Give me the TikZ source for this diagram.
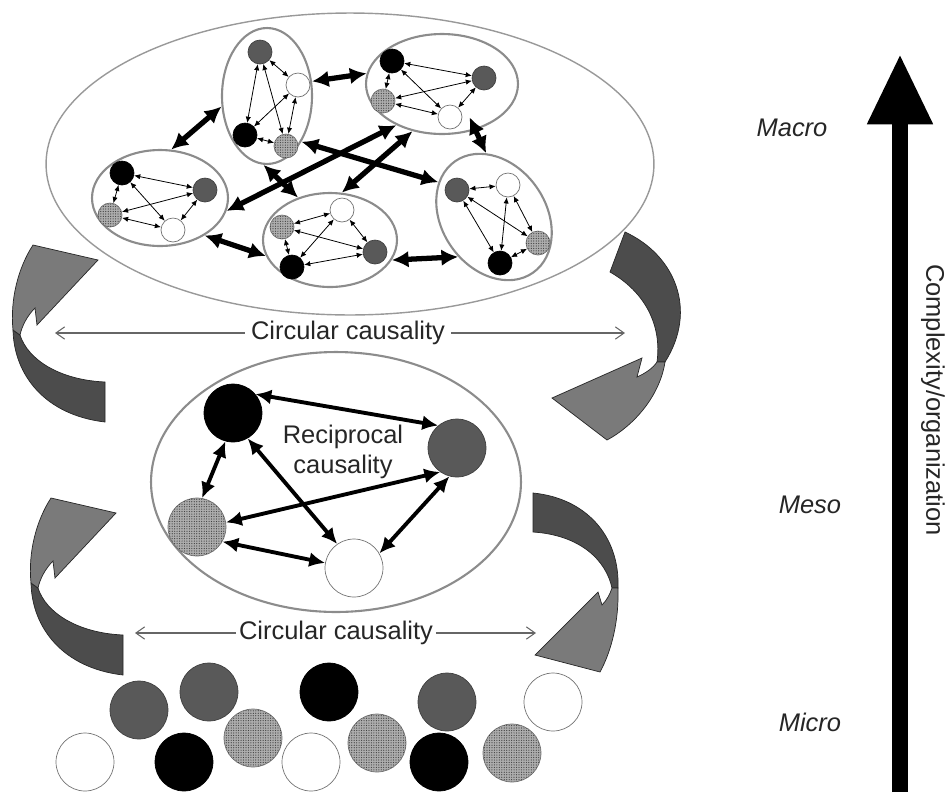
\documentclass[tikz,border=0pt]{standalone}
\usepackage{fontspec}
\setmainfont{Liberation Sans}
\usepackage{tikz}
\usetikzlibrary{arrows.meta,shapes.geometric,patterns.meta}

\begin{document}
\begin{tikzpicture}[x=0.02cm,y=-0.02cm,
  every node/.style={font=\fontsize{14.5}{17}\selectfont,text=black!85},
  grp/.style={ellipse,draw=black!45,line width=1.2pt,inner sep=0pt},
  ball/.style={circle,inner sep=0pt,minimum size=0.48cm},
  blk/.style={fill=black,draw=black},
  dk/.style={fill=black!65,draw=black!75},
  wht/.style={fill=white,draw=black!55},
  tx/.style={fill=black!32,draw=black!55,postaction={pattern={Dots[distance=1.4pt,radius=0.35pt]},pattern color=black!75}},
  smallarr/.style={{Latex[length=3.5pt,width=3pt]}-{Latex[length=3.5pt,width=3pt]},line width=0.45pt},
  bigarr/.style={{Latex[length=9.5pt,width=9.5pt]}-{Latex[length=9.5pt,width=9.5pt]},line width=3pt},
  mesoarr/.style={{Latex[length=9pt,width=8.5pt]}-{Latex[length=9pt,width=8.5pt]},line width=2.2pt},
  thinarr/.style={-{Straight Barb[length=5pt,width=7pt]},draw=black!60,line width=0.6pt},
  curlarr/.style={draw=black!85,line width=0.4pt}]
\useasboundingbox (0,0) rectangle (947,792);

% macro level
\node[grp,draw=black!40,line width=0.8pt,minimum width=12.16cm,minimum height=6.04cm] (macro) at (350,164) {};
\foreach \g/\cx/\cy/\w/\h/\r in {1/267/96/1.8/2.72/0, 2/442/84/3.04/2.0/0, 3/160/198/2.72/1.92/0,
                                 4/330/240/2.68/1.88/0, 5/494/217/2.08/2.72/35}
  \node[grp,minimum width=\w cm,minimum height=\h cm,rotate=\r] (g\g) at (\cx,\cy) {};
\foreach \g/\k/\cx/\cy in {1/dk/260/52, 1/wht/298/85, 1/blk/245/135, 1/tx/286/146,
                           2/blk/392/61, 2/dk/484/78, 2/tx/383/101, 2/wht/450/117,
                           3/blk/122/173, 3/dk/205/190, 3/tx/110/215, 3/wht/173/230,
                           4/wht/342/210, 4/tx/282/227, 4/dk/375/252, 4/blk/292/267,
                           5/dk/457/190, 5/wht/508/185, 5/tx/538/243, 5/blk/500/263}
  \node[ball,\k] (g\g\k) at (\cx,\cy) {};
\foreach \g in {1,...,5}
  \foreach \a/\b in {blk/dk,blk/wht,blk/tx,dk/wht,dk/tx,wht/tx}
    \draw[smallarr] (g\g\a) -- (g\g\b);
\foreach \p/\q in {g1.193/g3.77, g1.18/g2.172, g3.320/g4.194, g4.342/g5.193,
                   g1.267/g4.127, g1.307/g5.113, g2.222/g3.349, g2.238/g4.76}
  \draw[bigarr] (\p) -- (\q);
\draw[bigarr,shorten <=-8pt] (g2.306) -- (g5.62);

% meso level
\node[grp,minimum width=7.4cm,minimum height=5.2cm] (meso) at (336,482) {};
\foreach \k/\cx/\cy in {blk/233/413, dk/457/448, tx/197/527, wht/354/568}
  \node[ball,\k,minimum size=1.16cm] (m\k) at (\cx,\cy) {};
\node[align=center] (recip) at (343,452) {Reciprocal\\causality};
\foreach \a/\b in {blk.40/dk.130, blk.300/wht.125, blk.255/tx.80, dk.235/tx.9, dk.255/wht.30, tx.330/wht.170}
  \draw[mesoarr] (m\a) -- (m\b);

% micro level
\foreach \k/\cx/\cy [count=\i] in {dk/139/710, dk/209/692, blk/329/692, dk/447/702, wht/553/702,
                                   wht/85/762, blk/184/762, tx/253/738, wht/311/762, tx/377/743,
                                   blk/439/762, tx/512/753}
  \node[ball,\k,minimum size=1.16cm] (mc\i) at (\cx,\cy) {};

% circular causality
\node (circup) at (348,333) {Circular causality};
\coordinate (circupl) at (55,333);
\coordinate (circupr) at (625,333);
\draw[thinarr] (circup.west) -- (circupl);
\draw[thinarr] (circup.east) -- (circupr);
\node[inner sep=1.5pt] (circlow) at (336,633) {Circular causality};
\coordinate (circlowl) at (135,633);
\coordinate (circlowr) at (536,633);
\draw[thinarr] (circlow.west) -- (circlowl);
\draw[thinarr] (circlow.east) -- (circlowr);

% curved arrows
\foreach \sx/\sy in {0/0,18/253} {
 \begin{scope}[shift={(\sx,\sy)}]
  \filldraw[curlarr,fill=black!70] (13,330) .. controls (14,375) and (45,415) .. (105,422)
     -- (105,382) .. controls (60,380) and (28,360) .. (20,335) -- cycle;
  \filldraw[curlarr,fill=black!52] (13,330) .. controls (10,300) and (18,268) .. (33,245)
     -- (98,260) -- (37,325) -- (35,308) .. controls (27,316) and (22,326) .. (20,335) -- cycle;
 \end{scope}
}
\filldraw[curlarr,fill=black!70] (625,232) .. controls (675,255) and (698,310) .. (665,362)
   -- (657,362) .. controls (662,325) and (645,292) .. (610,272) -- cycle;
\filldraw[curlarr,fill=black!52] (665,362) .. controls (660,395) and (635,425) .. (607,440)
   -- (552,398) -- (642,358) -- (637,377) .. controls (646,373) and (653,368) .. (657,362) -- cycle;
\filldraw[curlarr,fill=black!70] (533,493) .. controls (585,498) and (620,535) .. (618,588)
   -- (612,588) .. controls (606,560) and (580,535) .. (533,532) -- cycle;
\filldraw[curlarr,fill=black!52] (618,588) .. controls (619,620) and (612,650) .. (600,672)
   -- (535,655) -- (598,592) -- (602,605) .. controls (607,600) and (610,594) .. (612,588) -- cycle;

% complexity axis
\coordinate (axisbot) at (900,792);
\coordinate (axistop) at (900,54);
\draw[line width=9pt,-{Triangle[length=40pt,width=35pt]}] (axisbot) -- (axistop);
\node (macrolbl) at (792,128) {\itshape Macro};
\node (mesolbl) at (810,505) {\itshape Meso};
\node (microlbl) at (810,722) {\itshape Micro};
\node[rotate=-90] (axislbl) at (933,400) {Complexity/organization};
\end{tikzpicture}
\end{document}
